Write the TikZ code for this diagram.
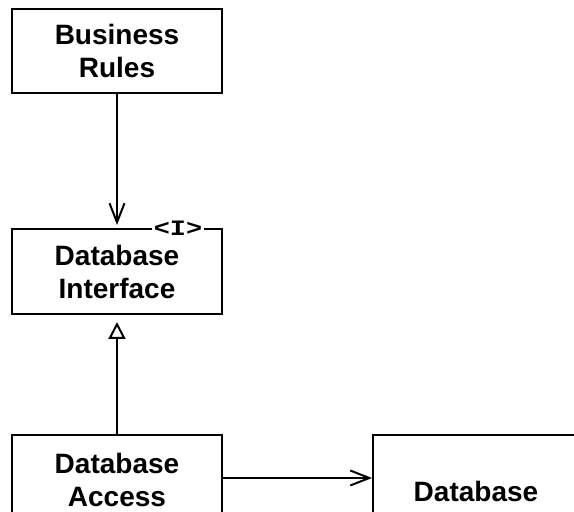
\documentclass[tikz,border=0pt]{standalone}
\usepackage{fontspec}
\setmainfont{Liberation Sans}
\newfontfamily\monof{Liberation Mono}
\usetikzlibrary{arrows.meta}
\begin{document}
\begin{tikzpicture}[x=1pt,y=1pt,
  box/.style={draw, line width=2pt, rectangle, minimum width=210pt, align=center,
    font=\fontsize{28}{33}\selectfont\bfseries, inner sep=0pt},
  conn/.style={line width=2pt},
  usesarrow/.style={-{Straight Barb[length=19pt,width=15pt,line width=2pt]}},
  realizes/.style={-{Triangle[open,length=17pt,width=17pt,line width=2pt,fill=white]}}]
\useasboundingbox (0,0) rectangle (574,512);
\clip (0,0) rectangle (574,512);
\node[box, minimum height=84pt] (br) at (117,461) {Business\\Rules};
\node[box, minimum height=85pt] (di) at (117,240.5) {Database\\Interface};
\node[box, minimum height=90pt] (da) at (117,32) {Database\\Access};
\node[box, minimum width=206pt, minimum height=112pt] (db) at (476,21) {Database};
\node[fill=white, inner sep=1.5pt, font=\monof\bfseries\fontsize{22}{22}\selectfont] (iface) at (178,283.5) {\scalebox{1.22}[1]{<I>}};
\draw[conn, usesarrow, shorten >=3pt] (br.south) -- (di.north);
\draw[conn, realizes, shorten >=7pt] (da.north) -- (di.south);
\draw[conn, usesarrow] (da.east |- 0,34) -- (db.west |- 0,34);
\end{tikzpicture}
\end{document}
